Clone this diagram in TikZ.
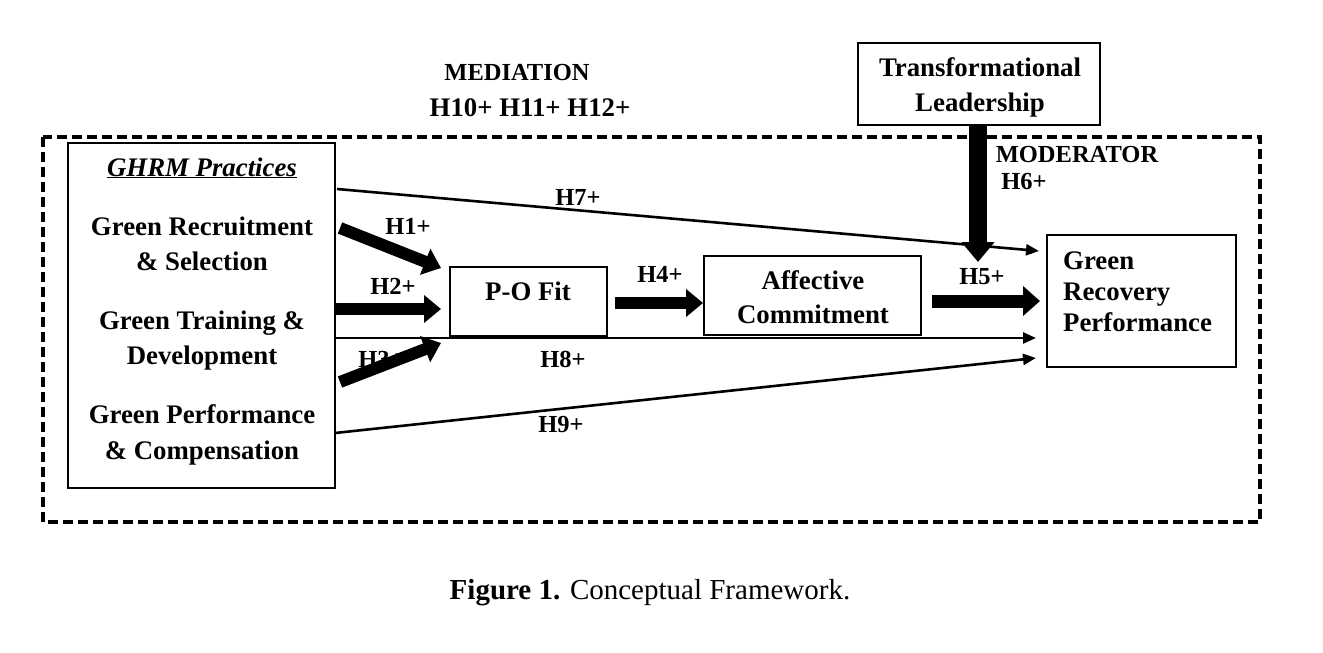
\documentclass[tikz,border=0pt]{standalone}
\usepackage{fontspec}
\setmainfont{Liberation Serif}
\usetikzlibrary{arrows.meta}
\tikzset{
  lab/.style={anchor=base, inner sep=0pt, font=\fontsize{26.8}{35}\selectfont\bfseries},
  hlab/.style={anchor=base, inner sep=0pt, font=\fontsize{24.5}{30}\selectfont\bfseries},
  boxshape/.style={draw=black, line width=#1, fill=none},
  thinarrow/.style={line width=2.6pt, -{Triangle[length=13pt,width=11pt]}},
  fatarrow/.style={line width=12pt, -{Triangle[length=17pt,width=27pt]}},
  bigarrow/.style={line width=18pt, -{Triangle[length=20pt,width=32pt]}},
  outerframe/.style={draw=black, line width=3.5pt, dash pattern=on 10pt off 5pt}
}
\begin{document}
\begin{tikzpicture}[x=1pt,y=-1pt]
\useasboundingbox (0,0) rectangle (1323,653);
\fill[white] (0,0) rectangle (1323,653);

% outer dashed frame
\draw[outerframe] (43,137) rectangle (1260,522);

% boxes
\draw[boxshape=1.6pt] (68,143) rectangle (335,488);
\coordinate (ghrmE) at (335,300);
\draw[boxshape=1.8pt] (450,267) rectangle (607,336);
\draw[boxshape=1.1pt] (704,256) rectangle (921,335);
\draw[boxshape=2pt] (1047,235) rectangle (1236,367);
\draw[boxshape=2pt] (858,43) rectangle (1100,125);

% named end points of connectors
\coordinate (h7s) at (337,189);  \coordinate (h7e) at (1039,251);
\coordinate (h8s) at (335,338);  \coordinate (h8e) at (1036,338);
\coordinate (h9s) at (335,433);  \coordinate (h9e) at (1036,358);
\coordinate (h1s) at (340,228);  \coordinate (h1e) at (441,268);
\coordinate (h2s) at (335,309);  \coordinate (h2e) at (441,309);
\coordinate (h3s) at (340,382);  \coordinate (h3e) at (441,343);
\coordinate (h4s) at (615,303);  \coordinate (h4e) at (703,303);
\coordinate (h5s) at (932,301);  \coordinate (h5e) at (1040,301);
\coordinate (h6s) at (978,125);  \coordinate (h6e) at (978,262);

% labels drawn first (H3+ is partly covered by its arrow)
\node[hlab] (lh3) at (381,367) {H3+};

% thin connectors
\draw[thinarrow] (h7s) -- (h7e);
\draw[thinarrow] (h8s) -- (h8e);
\draw[thinarrow] (h9s) -- (h9e);

% thick connectors
\draw[fatarrow] (h1s) -- (h1e);
\draw[fatarrow] (h2s) -- (h2e);
\draw[fatarrow] (h3s) -- (h3e);
\draw[fatarrow] (h4s) -- (h4e);
\draw[line width=13pt, -{Triangle[length=17pt,width=29pt]}] (h5s) -- (h5e);
\draw[bigarrow] (h6s) -- (h6e);

% texts
\node[lab] (t1) at (202,176) {\itshape\underline{GHRM Practices}};
\node[lab] (t2) at (202,235) {Green Recruitment};
\node[lab] (t3) at (202,270) {\& Selection};
\node[lab] (t4) at (202,329) {Green Training \&};
\node[lab] (t5) at (202,364) {Development};
\node[lab] (t6) at (202,423) {Green Performance};
\node[lab] (t7) at (202,459) {\& Compensation};

\node[lab] (pof) at (528,300) {P-O Fit};
\node[lab] (ac1) at (813,289) {Affective};
\node[lab] (ac2) at (813,323) {Commitment};
\node[lab, anchor=base west] (gr1) at (1063,269) {Green};
\node[lab, anchor=base west] (gr2) at (1063,300) {Recovery};
\node[lab, anchor=base west] (gr3) at (1063,331) {Performance};
\node[lab] (tl1) at (980,76) {Transformational};
\node[lab] (tl2) at (980,111) {Leadership};

\node[hlab] (med) at (517,80) {MEDIATION};
\node[lab] (medh) at (530,116) {H10+ H11+ H12+};
\node[hlab] (mod) at (1077,162) {MODERATOR};
\node[hlab] (lh6) at (1024,189) {H6+};

\node[hlab] (lh7) at (578,205) {H7+};
\node[hlab] (lh1) at (408,234) {H1+};
\node[hlab] (lh2) at (393,294) {H2+};
\node[hlab] (lh8) at (563,367) {H8+};
\node[hlab] (lh9) at (561,432) {H9+};
\node[hlab] (lh4) at (660,282) {H4+};
\node[hlab] (lh5) at (982,284) {H5+};

% caption
\node[anchor=base, inner sep=0pt, font=\fontsize{29}{34}\selectfont] (cap) at (650,599) {\textbf{Figure 1.} Conceptual Framework.};
\end{tikzpicture}
\end{document}
